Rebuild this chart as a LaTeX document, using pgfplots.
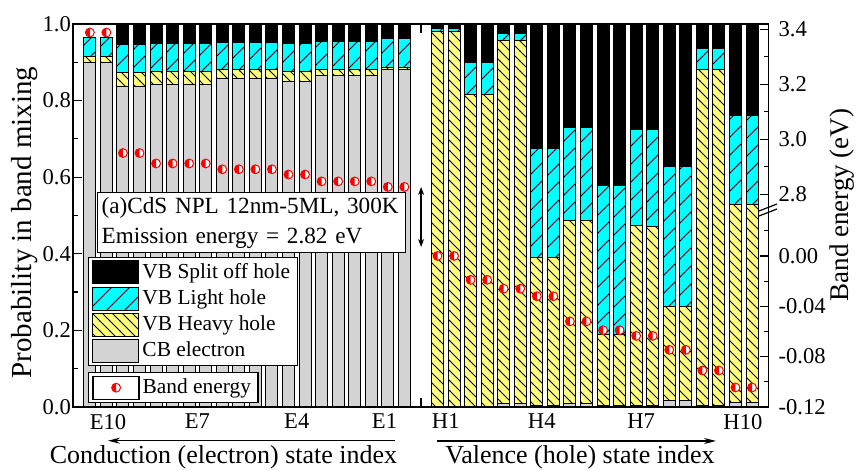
\documentclass[border=0pt]{standalone}
\usepackage{pgfplots}
\pgfplotsset{compat=1.18}
\usepackage{pgfplotstable}
\usepackage{fontspec}
\setmainfont{Liberation Serif}
\usetikzlibrary{patterns,arrows.meta}

\definecolor{cbgray}{RGB}{211,211,211}
\definecolor{hhyellow}{RGB}{255,255,128}
\definecolor{lhcyan}{RGB}{0,255,255}

% sparse hatchings: "\" for heavy holes, "/" for light holes
\pgfdeclarepatternformonly{hh lines}{\pgfqpoint{-1pt}{-1pt}}{\pgfqpoint{6pt}{6pt}}{\pgfqpoint{5pt}{5pt}}{%
  \pgfsetlinewidth{0.45pt}%
  \pgfpathmoveto{\pgfqpoint{0pt}{5pt}}%
  \pgfpathlineto{\pgfqpoint{5.1pt}{-0.1pt}}%
  \pgfusepath{stroke}}
\pgfdeclarepatternformonly{lh lines}{\pgfqpoint{-1pt}{-1pt}}{\pgfqpoint{10pt}{10pt}}{\pgfqpoint{9pt}{9pt}}{%
  \pgfsetlinewidth{0.45pt}%
  \pgfpathmoveto{\pgfqpoint{0pt}{0pt}}%
  \pgfpathlineto{\pgfqpoint{9.1pt}{9.1pt}}%
  \pgfusepath{stroke}}

% circle with its left half filled red, right half white
\pgfdeclareplotmark{lefthalf}{%
  \pgfpathcircle{\pgfpointorigin}{\pgfplotmarksize}%
  \pgfsetfillcolor{white}\pgfusepathqfill
  \pgfpathmoveto{\pgfqpoint{0pt}{\pgfplotmarksize}}%
  \pgfpatharc{90}{270}{\pgfplotmarksize}%
  \pgfpathclose
  \pgfsetfillcolor{red}\pgfusepathqfill
  \pgfpathcircle{\pgfpointorigin}{\pgfplotmarksize}%
  \pgfusepathqstroke
}

% band mixing probabilities of each state (two bars per state)
\pgfplotstableread{
x  cb    hh    lh    so
1  0.900 0.014 0.051 0.000
2  0.900 0.014 0.051 0.000
3  0.838 0.036 0.073 0.053
4  0.838 0.036 0.073 0.053
5  0.843 0.032 0.075 0.050
6  0.843 0.032 0.075 0.050
7  0.843 0.032 0.075 0.050
8  0.843 0.032 0.075 0.050
9  0.857 0.023 0.072 0.048
10 0.857 0.023 0.072 0.048
11 0.857 0.023 0.072 0.048
12 0.857 0.023 0.072 0.048
13 0.851 0.024 0.075 0.050
14 0.851 0.024 0.075 0.050
15 0.866 0.015 0.074 0.045
16 0.866 0.015 0.074 0.045
17 0.866 0.015 0.074 0.045
18 0.866 0.015 0.074 0.045
19 0.881 0.006 0.074 0.039
20 0.881 0.006 0.074 0.039
22 0.000 0.980 0.007 0.013
23 0.000 0.980 0.007 0.013
24 0.002 0.815 0.083 0.100
25 0.002 0.815 0.083 0.100
26 0.009 0.947 0.019 0.025
27 0.009 0.947 0.019 0.025
28 0.003 0.388 0.285 0.324
29 0.003 0.388 0.285 0.324
30 0.009 0.478 0.244 0.269
31 0.009 0.478 0.244 0.269
32 0.005 0.185 0.389 0.421
33 0.005 0.185 0.389 0.421
34 0.005 0.469 0.250 0.276
35 0.005 0.466 0.253 0.276
36 0.016 0.246 0.365 0.373
37 0.016 0.246 0.365 0.373
38 0.005 0.877 0.055 0.063
39 0.005 0.877 0.055 0.063
40 0.011 0.518 0.233 0.238
41 0.011 0.518 0.233 0.238
}\mixing

% conduction band state energies (eV)
\pgfplotstableread{
x  E
1  3.388
2  3.388
3  2.950
4  2.950
5  2.912
6  2.912
7  2.912
8  2.912
9  2.891
10 2.891
11 2.891
12 2.891
13 2.872
14 2.872
15 2.847
16 2.847
17 2.847
18 2.847
19 2.827
20 2.827
}\cbenergy

% valence band state energies (eV)
\pgfplotstableread{
x  E
22 0.000
23 0.000
24 -0.019
25 -0.019
26 -0.026
27 -0.026
28 -0.032
29 -0.032
30 -0.052
31 -0.052
32 -0.059
33 -0.059
34 -0.0635
35 -0.0635
36 -0.0746
37 -0.0746
38 -0.091
39 -0.091
40 -0.1045
41 -0.1045
}\vbenergy

\pgfplotsset{
  boxlegend/.style={legend image code/.code={%
    \draw[##1, line width=0.5pt] (0pt,-5.75pt) rectangle (23pt,5.75pt);}},
  marklegend/.style={legend image code/.code={%
    \path (0pt,-5.75pt) rectangle (23pt,5.75pt);
    \draw[mark repeat=2,mark phase=2,##1] plot coordinates {(0pt,0pt)(11.5pt,0pt)(23pt,0pt)};}},
  energymarks/.style={only marks, mark=lefthalf, mark size=2.2pt,
    mark options={draw=red, line width=0.5pt}},
  common/.style={
    at={(0pt,0pt)}, anchor=south west,
    scale only axis, width=347.65pt,
    xmin=0, xmax=42,
    axis line style={line width=0.8pt},
    tick align=inside,
    major tick length=4.5pt, minor tick length=2.5pt,
    tick style={line width=0.6pt, black},
    /pgf/number format/assume math mode=true,
    ticklabel style={font=\fontsize{11.3}{13}\selectfont},
  },
  legendbox/.style={
    draw=black, line width=0.6pt, fill=white,
    font=\fontsize{10.7}{12}\selectfont,
    inner xsep=2pt, inner ysep=1.5pt,
    row sep=1pt,
    nodes={inner sep=1.5pt},
  },
}

\begin{document}
\begin{tikzpicture}
% stacked probabilities
\begin{axis}[
  common,
  height=191.5pt,
  ymin=0, ymax=1,
  ybar stacked, bar width=0.725,
  xtick={7,14,21,28,35}, xticklabels={},
  extra x ticks={2.1,7.5,13.5,18.8,22.5,28.3,34.3,40.45},
  extra x tick labels={E10,E7,E4,E1,H1,H4,H7,H10},
  extra x tick style={major tick length=0pt},
  ytick={0,0.2,0.4,0.6,0.8,1}, minor ytick={0.1,0.3,0.5,0.7,0.9},
  ytick pos=left,
  yticklabel style={/pgf/number format/fixed, /pgf/number format/fixed zerofill,
    /pgf/number format/precision=1, inner xsep=1pt},
  legend style={legendbox, at={(rel axis cs:0.021,0.392)}, anchor=north west},
  legend cell align=left,
  reverse legend,
]
\addplot[boxlegend, fill=cbgray, draw=black, line width=0.5pt]
  table[x=x, y=cb]{\mixing};
\addlegendentry{CB electron}
\addplot[boxlegend, fill=hhyellow, draw=black, line width=0.5pt,
  postaction={pattern=hh lines, pattern color=black}]
  table[x=x, y=hh]{\mixing};
\addlegendentry{VB Heavy hole}
\addplot[boxlegend, fill=lhcyan, draw=black, line width=0.5pt,
  postaction={pattern=lh lines, pattern color=black}]
  table[x=x, y=lh]{\mixing};
\addlegendentry{VB Light hole}
\addplot[boxlegend, fill=black, draw=black, line width=0.5pt]
  table[x=x, y=so]{\mixing};
\addlegendentry{VB Split off hole}
\end{axis}

% upper part of the broken energy axis (conduction band)
\begin{axis}[
  common,
  at={(0pt,98.5pt)},
  height=93pt,
  ymin=2.743, ymax=3.419,
  axis x line=none, axis y line*=right,
  ytick={2.8,3.0,3.2,3.4}, minor ytick={2.9,3.1,3.3},
  yticklabel style={/pgf/number format/fixed, /pgf/number format/fixed zerofill,
    /pgf/number format/precision=1, xshift=1.5pt},
]
\addplot[energymarks] table[x=x, y=E]{\cbenergy};
\end{axis}

% lower part of the broken energy axis (valence band)
\begin{axis}[
  common,
  height=98.5pt,
  ymin=-0.12, ymax=0.0365,
  axis x line=none, axis y line*=right,
  ytick={-0.12,-0.08,-0.04,0}, minor ytick={-0.10,-0.06,-0.02,0.02},
  yticklabel style={/pgf/number format/fixed, /pgf/number format/fixed zerofill,
    /pgf/number format/precision=2, xshift=1.5pt},
  legend style={legendbox, at={(rel axis cs:0.021,0.1777)}, anchor=north west},
  legend cell align=left,
]
\addplot[energymarks, marklegend] table[x=x, y=E]{\vbenergy};
\addlegendentry{Band energy}
\end{axis}

% axis break marks
\draw[line width=0.6pt] (342.85pt,98pt) -- (351.85pt,101.5pt);
\draw[line width=0.6pt] (342.85pt,95.5pt) -- (351.85pt,99pt);

% sample description
\node[draw=black, line width=0.6pt, fill=white, anchor=north west,
  text width=150pt, inner xsep=2pt, inner ysep=2.2pt, align=left,
  font=\fontsize{11.6}{15}\selectfont]
  at (11.85pt,107.5pt) {(a)CdS NPL 12nm-5ML, 300K\\Emission energy = 2.82 eV};

% energy gap indicator
\draw[{Stealth[length=4pt,width=3pt]}-{Stealth[length=4pt,width=3pt]}, line width=0.6pt]
  (173.9pt,110pt) -- (173.9pt,80pt);

% axis titles
\node[rotate=90, font=\fontsize{14.5}{16}\selectfont] at (-24.15pt,92.25pt)
  {Probability in band mixing};
\node[rotate=90, font=\fontsize{13.5}{15}\selectfont] at (384.5pt,101pt)
  {Band energy (eV)};

% state index directions
\draw[-{Stealth[length=6pt,width=3pt]}, line width=0.6pt] (160.85pt,-16.85pt) -- (17.35pt,-16.85pt);
\draw[-{Stealth[length=6pt,width=3pt]}, line width=0.6pt] (181.85pt,-17pt) -- (321.35pt,-17pt);
\node[anchor=base, font=\fontsize{13}{15}\selectfont] at (75.1pt,-28.5pt)
  {Conduction (electron) state index};
\node[anchor=base, font=\fontsize{13}{15}\selectfont] at (253.35pt,-28.5pt)
  {Valence (hole) state index};

\pgfresetboundingbox
\path[use as bounding box] (-36.65pt,-32pt) rectangle (392.85pt,203.5pt);
\end{tikzpicture}
\end{document}
